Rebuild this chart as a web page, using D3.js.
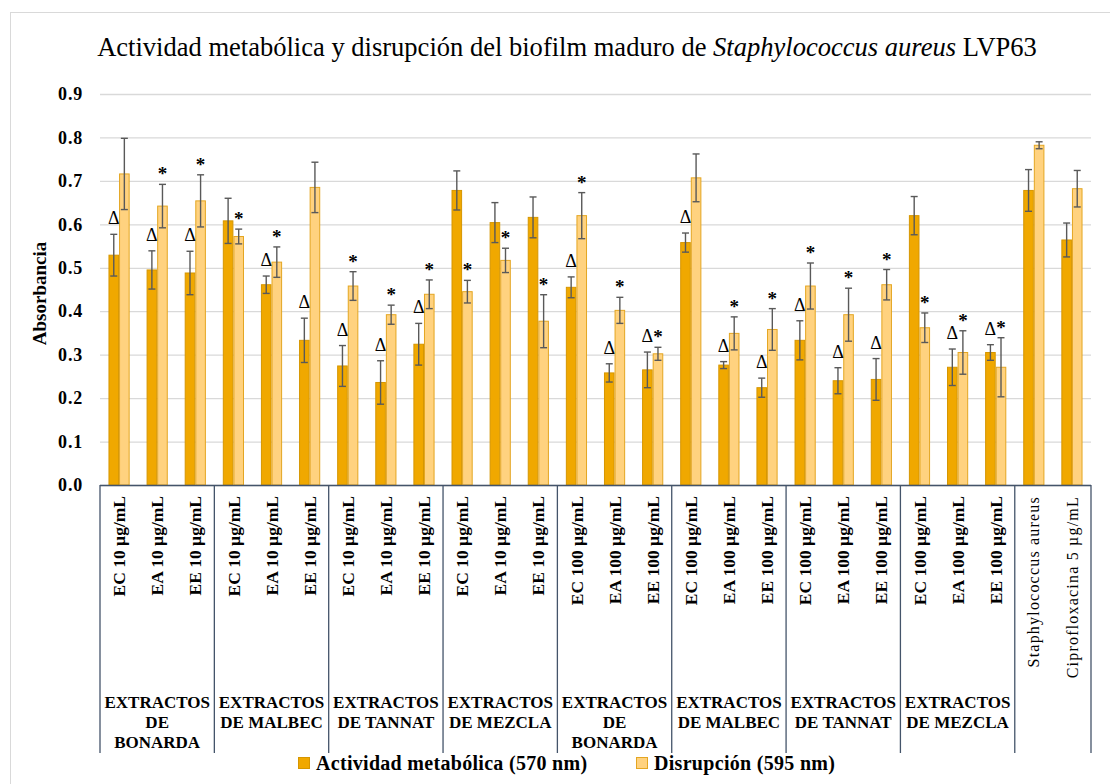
<!DOCTYPE html>
<html>
<head>
<meta charset="utf-8">
<script src="https://cdn.jsdelivr.net/npm/d3@7"></script>
<style>
  html, body { margin: 0; padding: 0; background: #ffffff; }
  svg { display: block; }
  text { font-family: "Liberation Serif", "Times New Roman", serif; fill: #000; }
</style>
</head>
<body>
<svg id="chart" width="1110" height="784"></svg>
<script>
// Extract treatments (three per extract group) and the two controls
const extractLabels = [
  "EC 10 µg/mL", "EA 10 µg/mL", "EE 10 µg/mL",
  "EC 10 µg/mL", "EA 10 µg/mL", "EE 10 µg/mL",
  "EC 10 µg/mL", "EA 10 µg/mL", "EE 10 µg/mL",
  "EC 10 µg/mL", "EA 10 µg/mL", "EE 10 µg/mL",
  "EC 100 µg/mL", "EA 100 µg/mL", "EE 100 µg/mL",
  "EC 100 µg/mL", "EA 100 µg/mL", "EE 100 µg/mL",
  "EC 100 µg/mL", "EA 100 µg/mL", "EE 100 µg/mL",
  "EC 100 µg/mL", "EA 100 µg/mL", "EE 100 µg/mL"
];
const controlLabels = ["Staphylococcus aureus", "Ciprofloxacina 5 µg/mL"];

const groupNames = [
  "EXTRACTOS DE BONARDA", "EXTRACTOS DE MALBEC", "EXTRACTOS DE TANNAT", "EXTRACTOS DE MEZCLA",
  "EXTRACTOS DE BONARDA", "EXTRACTOS DE MALBEC", "EXTRACTOS DE TANNAT", "EXTRACTOS DE MEZCLA", ""
];
const groupSizes = [3, 3, 3, 3, 3, 3, 3, 3, 2];

// Actividad metabólica (570 nm)
const metabolic = [0.529, 0.495, 0.488, 0.608, 0.461, 0.333, 0.274, 0.236, 0.324, 0.678, 0.604, 0.616,
                   0.455, 0.258, 0.265, 0.558, 0.276, 0.224, 0.333, 0.240, 0.243, 0.620, 0.271, 0.305,
                   0.678, 0.564];
const metabolicErr = [0.048, 0.044, 0.050, 0.052, 0.020, 0.051, 0.047, 0.050, 0.048, 0.045, 0.046, 0.047,
                      0.024, 0.021, 0.041, 0.022, 0.008, 0.022, 0.045, 0.030, 0.048, 0.044, 0.042, 0.018,
                      0.048, 0.039];
// Disrupción (595 nm)
const disruption = [0.716, 0.642, 0.654, 0.572, 0.513, 0.685, 0.458, 0.392, 0.439, 0.445, 0.517, 0.377,
                    0.620, 0.402, 0.302, 0.707, 0.349, 0.358, 0.458, 0.392, 0.461, 0.362, 0.305, 0.271,
                    0.782, 0.682];
const disruptionErr = [0.082, 0.050, 0.060, 0.017, 0.035, 0.058, 0.033, 0.022, 0.033, 0.026, 0.028, 0.061,
                       0.053, 0.030, 0.015, 0.055, 0.038, 0.048, 0.053, 0.061, 0.035, 0.034, 0.050, 0.068,
                       0.008, 0.042];

// Significance marks: Δ over metabolic activity, * over disruption
const metabolicMark = [1, 1, 1, 0, 1, 1, 1, 1, 1, 0, 0, 0, 1, 1, 1, 1, 1, 1, 1, 1, 1, 0, 1, 1, 0, 0];
const disruptionMark = [0, 1, 1, 1, 1, 0, 1, 1, 1, 1, 1, 1, 1, 1, 1, 0, 1, 1, 1, 1, 1, 1, 1, 1, 0, 0];

const yTicks = [0, 0.1, 0.2, 0.3, 0.4, 0.5, 0.6, 0.7, 0.8, 0.9];
const seriesNames = ["Actividad metabólica (570 nm)", "Disrupción (595 nm)"];

const categories = extractLabels.concat(controlLabels);
const nExtracts = extractLabels.length;

const serif = "'Liberation Serif', 'Times New Roman', serif";
const colors = {
  metabolic: "#f0a800", metabolicStroke: "#d69600",
  disruption: "#ffd27f", disruptionStroke: "#e4a622",
  err: "#595959", grid: "#d9d9d9", axis: "#44546a"
};

const svg = d3.select("#chart");

// Outer chart frame
svg.append("rect")
  .attr("x", 10.5).attr("y", 12.5).attr("width", 1200).attr("height", 900)
  .attr("fill", "none").attr("stroke", "#d9d9d9").attr("stroke-width", 1);

const plot = { left: 100, right: 1091, top: 94, bottom: 485 };

const x = d3.scaleBand().domain(d3.range(categories.length))
  .range([plot.left, plot.right]).paddingInner(0).paddingOuter(0);
const xs = d3.scaleBand().domain(["m", "d"]).range([0, x.bandwidth()])
  .paddingInner(0).paddingOuter(0.8);
const y = d3.scaleLinear().domain([0, 0.9]).range([plot.bottom, plot.top]);

// Title, sized to span the plot width
const title = svg.append("text")
  .attr("x", 567).attr("y", 56).attr("text-anchor", "middle")
  .style("font-family", serif).style("font-size", "24px");
title.append("tspan").text("Actividad metabólica y disrupción del biofilm maduro de ");
title.append("tspan").style("font-style", "italic").text("Staphylococcus aureus");
title.append("tspan").text(" LVP63");
const tw = title.node().getComputedTextLength();
title.style("font-size", (24 * 940 / tw).toFixed(2) + "px");

// Gridlines and y axis labels
const yAxis = d3.axisLeft(y).tickValues(yTicks).tickFormat(d3.format(".1f"))
  .tickSize(-(plot.right - plot.left)).tickPadding(17);
const gy = svg.append("g").attr("transform", `translate(${plot.left},0)`).call(yAxis);
gy.select(".domain").remove();
gy.selectAll(".tick line").attr("stroke", colors.grid).attr("stroke-width", 1.3);
gy.selectAll(".tick text")
  .style("font-family", serif)
  .style("font-size", "18px").style("font-weight", "bold")
  .style("letter-spacing", "0.8px").attr("fill", "#000");

svg.append("text")
  .attr("transform", `translate(46,${(plot.top + plot.bottom) / 2 + 4}) rotate(-90)`)
  .attr("text-anchor", "middle")
  .style("font-family", serif).style("font-size", "19px").style("font-weight", "bold")
  .text("Absorbancia");

// Bars
const rows = categories.map((c, i) => ({
  i,
  m: metabolic[i], me: metabolicErr[i], mm: metabolicMark[i],
  d: disruption[i], de: disruptionErr[i], dm: disruptionMark[i]
}));

const barG = svg.append("g");
const cat = barG.selectAll("g.cat").data(rows).join("g")
  .attr("class", "cat")
  .attr("transform", d => `translate(${x(d.i)},0)`);

cat.append("rect")
  .attr("x", xs("m") + 0.5).attr("width", xs.bandwidth() - 1)
  .attr("y", d => y(d.m)).attr("height", d => y(0) - y(d.m))
  .attr("fill", colors.metabolic).attr("stroke", colors.metabolicStroke).attr("stroke-width", 1);
cat.append("rect")
  .attr("x", xs("d") + 0.5).attr("width", xs.bandwidth() - 1)
  .attr("y", d => y(d.d)).attr("height", d => y(0) - y(d.d))
  .attr("fill", colors.disruption).attr("stroke", colors.disruptionStroke).attr("stroke-width", 1);

// Error bars
function errorBar(sel, key, errKey, band) {
  const cx = xs(band) + xs.bandwidth() / 2;
  const cap = 3.5;
  const g = sel.append("g").attr("stroke", colors.err).attr("stroke-width", 1.4);
  g.append("line").attr("x1", cx).attr("x2", cx)
    .attr("y1", d => y(d[key] + d[errKey])).attr("y2", d => y(d[key] - d[errKey]));
  g.append("line").attr("x1", cx - cap).attr("x2", cx + cap)
    .attr("y1", d => y(d[key] + d[errKey])).attr("y2", d => y(d[key] + d[errKey]));
  g.append("line").attr("x1", cx - cap).attr("x2", cx + cap)
    .attr("y1", d => y(d[key] - d[errKey])).attr("y2", d => y(d[key] - d[errKey]));
}
errorBar(cat, "m", "me", "m");
errorBar(cat, "d", "de", "d");

// Significance marks
cat.filter(d => d.mm).append("text")
  .attr("x", xs("m") + xs.bandwidth() / 2)
  .attr("y", d => y(d.m + d.me) - 10)
  .attr("text-anchor", "middle")
  .style("font-family", serif).style("font-size", "18px")
  .text("Δ");
cat.filter(d => d.dm).append("text")
  .attr("x", xs("d") + xs.bandwidth() / 2)
  .attr("y", d => y(d.d + d.de) - 4)
  .attr("text-anchor", "middle")
  .style("font-family", serif).style("font-size", "19px").style("font-weight", "bold")
  .text("*");

// Category axis
svg.append("line")
  .attr("x1", plot.left).attr("x2", plot.right)
  .attr("y1", y(0) + 0.5).attr("y2", y(0) + 0.5)
  .attr("stroke", colors.axis).attr("stroke-width", 1.3);

svg.append("g").selectAll("text").data(categories).join("text")
  .attr("transform", (d, i) => `translate(${x(i) + x.bandwidth() / 2},${y(0) + 11}) rotate(-90)`)
  .attr("text-anchor", "end").attr("dy", "0.35em")
  .style("font-family", serif)
  .style("font-size", (d, i) => i < nExtracts ? "17.5px" : "16px")
  .style("font-weight", (d, i) => i < nExtracts ? "bold" : "normal")
  .style("letter-spacing", (d, i) => i < nExtracts ? "0px" : "1.2px")
  .text(d => d);

// Group separators and group labels
const boundaries = [0];
groupSizes.forEach(s => boundaries.push(boundaries[boundaries.length - 1] + s));
const sepBottom = 753;

svg.append("g").selectAll("line").data(boundaries).join("line")
  .attr("x1", b => b < categories.length ? x(b) : plot.right)
  .attr("x2", b => b < categories.length ? x(b) : plot.right)
  .attr("y1", y(0)).attr("y2", sepBottom)
  .attr("stroke", colors.axis).attr("stroke-width", 1.3);

const groupG = svg.append("g");
groupNames.forEach((name, gi) => {
  if (!name) return;
  const x0 = x(boundaries[gi]);
  const x1 = boundaries[gi + 1] < categories.length ? x(boundaries[gi + 1]) : plot.right;
  const cx = (x0 + x1) / 2;
  const maxW = x1 - x0 - 3;
  const t = groupG.append("text").attr("text-anchor", "middle")
    .style("font-family", serif).style("font-size", "17px").style("font-weight", "bold");
  // word wrap within the group width
  const words = name.split(" ");
  const lines = [];
  let line = [];
  const probe = groupG.append("text")
    .style("font-family", serif).style("font-size", "17px").style("font-weight", "bold");
  words.forEach(w => {
    const trial = line.concat([w]).join(" ");
    probe.text(trial);
    if (line.length && probe.node().getComputedTextLength() > maxW) {
      lines.push(line.join(" "));
      line = [w];
    } else {
      line.push(w);
    }
  });
  lines.push(line.join(" "));
  probe.remove();
  lines.forEach((l, li) => {
    t.append("tspan").attr("x", cx).attr("y", 708 + li * 20).text(l);
  });
});

// Legend
const legend = svg.append("g");
const legendItems = [
  { name: seriesNames[0], fill: colors.metabolic, stroke: colors.metabolicStroke, x: 298 },
  { name: seriesNames[1], fill: colors.disruption, stroke: colors.disruptionStroke, x: 636 }
];
legendItems.forEach(it => {
  legend.append("rect").attr("x", it.x + 0.5).attr("y", 757.5).attr("width", 11).attr("height", 11)
    .attr("fill", it.fill).attr("stroke", it.stroke);
  legend.append("text").attr("x", it.x + 18).attr("y", 770)
    .style("font-family", serif).style("font-size", "20px").style("font-weight", "bold")
    .style("letter-spacing", "0.3px").text(it.name);
});
</script>
</body>
</html>
